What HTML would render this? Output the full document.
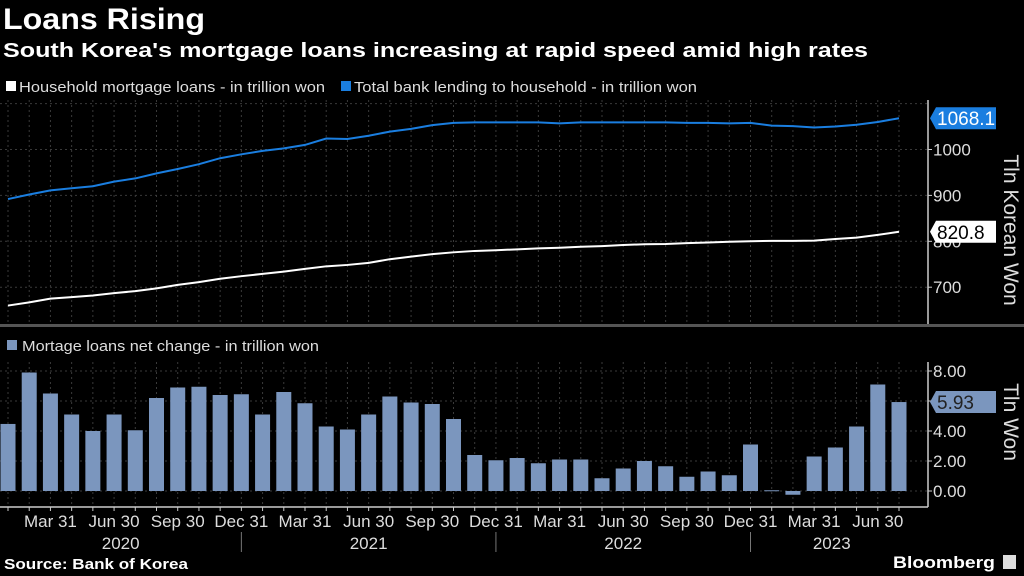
<!DOCTYPE html>
<html><head><meta charset="utf-8">
<style>
html,body{margin:0;padding:0;background:#000;}
body{width:1024px;height:576px;overflow:hidden;position:relative;font-family:"Liberation Sans",sans-serif;color:#fff;}
</style></head>
<body>
<svg id="chart" width="1024" height="576" style="position:absolute;left:0;top:0;">
<text x="3" y="29" font-size="30" font-weight="bold" fill="#fff" textLength="202" lengthAdjust="spacingAndGlyphs">Loans Rising</text>
<text x="3" y="57" font-size="20" font-weight="bold" fill="#fff" textLength="865" lengthAdjust="spacingAndGlyphs">South Korea's mortgage loans increasing at rapid speed amid high rates</text>
<g><rect x="6" y="81" width="10" height="10" fill="#fff"/><text x="19" y="92" font-size="15" fill="#ddd" textLength="306" lengthAdjust="spacingAndGlyphs">Household mortgage loans - in trillion won</text></g>
<g><rect x="341" y="81" width="10" height="10" fill="#1a7ee0"/><text x="354" y="92" font-size="15" fill="#ddd" textLength="343" lengthAdjust="spacingAndGlyphs">Total bank lending to household - in trillion won</text></g>
<g><rect x="7" y="340" width="10" height="10" fill="#7b96be"/><text x="22" y="351" font-size="15" fill="#ddd" textLength="297" lengthAdjust="spacingAndGlyphs">Mortage loans net change - in trillion won</text></g>
<text x="4" y="569" font-size="15" font-weight="bold" fill="#fff" textLength="184" lengthAdjust="spacingAndGlyphs">Source:  Bank of Korea</text>
<g><text x="893" y="568" font-size="17" font-weight="bold" fill="#fff" textLength="102" lengthAdjust="spacingAndGlyphs">Bloomberg</text><rect x="1003" y="555" width="13" height="14" fill="#ddd"/></g>
</svg>
<script>
const months = ["Jan20","Feb20","Mar20","Apr20","May20","Jun20","Jul20","Aug20","Sep20","Oct20","Nov20","Dec20","Jan21","Feb21","Mar21","Apr21","May21","Jun21","Jul21","Aug21","Sep21","Oct21","Nov21","Dec21","Jan22","Feb22","Mar22","Apr22","May22","Jun22","Jul22","Aug22","Sep22","Oct22","Nov22","Dec22","Jan23","Feb23","Mar23","Apr23","May23","Jun23","Jul23"];
const totalLending = [892,902,911,915.5,920,930,937,948,957.5,968,981,989.5,997,1002.5,1010,1024,1023,1030,1039,1045,1053,1058,1059,1059,1059,1059,1057,1059,1059,1059,1059,1059,1058,1058,1057,1058,1052,1051,1048,1050,1054,1060,1068.1];
const mortgage = [660,667,675,678.5,682,687,691.5,697.5,705,711,718.5,724,729,734,740,745.5,748.5,753,761,766.5,772,776,779,780.5,782.5,784.5,786,788,789.5,792,793.5,794,796,797.5,799,800,801,801,801.5,805,808,814,820.8];
const netChange = [4.47,7.9,6.5,5.1,4.0,5.1,4.05,6.2,6.9,6.95,6.4,6.45,5.1,6.6,5.85,4.3,4.1,5.1,6.3,5.9,5.8,4.8,2.4,2.05,2.2,1.85,2.1,2.1,0.85,1.5,2.0,1.65,0.95,1.3,1.05,3.1,0.05,-0.25,2.3,2.9,4.3,7.1,5.93];
const topTicks = [700,800,900,1000];
const botTicks = [0,2,4,6,8];
const xTickLabels = ["Mar 31","Jun 30","Sep 30","Dec 31","Mar 31","Jun 30","Sep 30","Dec 31","Mar 31","Jun 30","Sep 30","Dec 31","Mar 31","Jun 30"];
const years = ["2020","2021","2022","2023"];

const svg = document.getElementById('chart');
const NS = "http://www.w3.org/2000/svg";
function mk(tag, attrs, parent){const e=document.createElementNS(NS,tag);for(const k in attrs)e.setAttribute(k,attrs[k]);(parent||svg).appendChild(e);return e;}
const x = i => 8 + i*(891/(months.length-1));
const yTop = v => 149.5 - (v-1000)*0.459;
const yBot = v => 491 - v*15;
const AX = 928;

for(let i=0;i<months.length;i++){
  let g=mk('line',{x1:x(i),x2:x(i),y1:100,y2:325,stroke:'#3a3a3a','stroke-dasharray':'2,3'});
   
  g=mk('line',{x1:x(i),x2:x(i),y1:362,y2:507,stroke:'#3a3a3a','stroke-dasharray':'2,3'});
   
}
[1100].concat(topTicks).forEach(v=>{
  const g=mk('line',{x1:0,x2:AX,y1:yTop(v),y2:yTop(v),stroke:'#3a3a3a','stroke-dasharray':'2,3'});
   
});
topTicks.forEach(v=>{
  const t=mk('text',{x:AX+5,y:yTop(v)+6,fill:'#ddd','font-size':17});
  t.textContent=v;
   
  mk('line',{x1:AX,x2:AX+4,y1:yTop(v),y2:yTop(v),stroke:'#ccc'});
});
botTicks.forEach(v=>{
  const g=mk('line',{x1:0,x2:AX,y1:yBot(v),y2:yBot(v),stroke:'#3a3a3a','stroke-dasharray':'2,3'});
   
  const t=mk('text',{x:AX+5,y:yBot(v)+6,fill:'#ddd','font-size':17});
  t.textContent=v.toFixed(2);
   
  mk('line',{x1:AX,x2:AX+4,y1:yBot(v),y2:yBot(v),stroke:'#ccc'});
});
let a=mk('line',{x1:AX,x2:AX,y1:100,y2:326,stroke:'#ccc','stroke-width':1.5});
 
a=mk('line',{x1:AX,x2:AX,y1:362,y2:507,stroke:'#ccc','stroke-width':1.5});
 
a=mk('rect',{x:0,y:324,width:1024,height:3,fill:'#555'});
 
a=mk('line',{x1:0,x2:AX,y1:507,y2:507,stroke:'#ccc','stroke-width':1.5});
 
for(let i=0;i<months.length;i++) mk('line',{x1:x(i),x2:x(i),y1:507,y2:511,stroke:'#ccc'});

netChange.forEach((v,i)=>{
  const y0=yBot(0), y1=yBot(v);
  const b=mk('rect',{x:x(i)-7.5,y:Math.min(y0,y1),width:15,height:Math.max(1,Math.abs(y1-y0)),fill:'#7b96be'});
   
});
function line(data,color,name){
  const p=mk('polyline',{points:data.map((v,i)=>x(i)+','+yTop(v)).join(' '),fill:'none',stroke:color,'stroke-width':2});
   
}
line(totalLending,'#1a7ee0','total-lending-line');
line(mortgage,'#ffffff','mortgage-line');

function badge(yc,txt,bg,fg,name){
  const g=mk('g',{});
   
  mk('polygon',{points:`${AX+2},${yc} ${AX+8},${yc-11} ${AX+68},${yc-11} ${AX+68},${yc+11} ${AX+8},${yc+11}`,fill:bg},g);
  const t=mk('text',{x:AX+9,y:yc+7,fill:fg,'font-size':19},g); t.textContent=txt;
}
badge(yTop(totalLending[totalLending.length-1]),totalLending[totalLending.length-1].toFixed(1),'#1a7ee0','#fff','total-lending-value-badge');
badge(yTop(mortgage[mortgage.length-1]),mortgage[mortgage.length-1].toFixed(1),'#fff','#000','mortgage-value-badge');
badge(yBot(netChange[netChange.length-1]),netChange[netChange.length-1].toFixed(2),'#7b96be','#222','net-change-value-badge');

let t=mk('text',{x:0,y:0,fill:'#ddd','font-size':21,'text-anchor':'middle',transform:'translate(1004,230) rotate(90)'});
t.textContent='Tln Korean Won';  
t=mk('text',{x:0,y:0,fill:'#ddd','font-size':21,'text-anchor':'middle',transform:'translate(1004,422) rotate(90)'});
t.textContent='Tln Won';  

xTickLabels.forEach((s,k)=>{
  const i=2+k*3;
  const e=mk('text',{x:x(i),y:527,fill:'#ddd','font-size':17,'text-anchor':'middle'});
  e.textContent=s;
   
});
const yb=[0,11,23,35,months.length-1+0.8];
years.forEach((s,k)=>{
  const x0=k===0?0:x(yb[k]), x1=k===3?x(months.length-1)+14:x(yb[k+1]);
  const e=mk('text',{x:(x0+x1)/2,y:549,fill:'#ddd','font-size':17,'text-anchor':'middle'});
  e.textContent=s;
   
  if(k>0) mk('line',{x1:x0,x2:x0,y1:532,y2:552,stroke:'#777'});
});
</script>
</body></html>
